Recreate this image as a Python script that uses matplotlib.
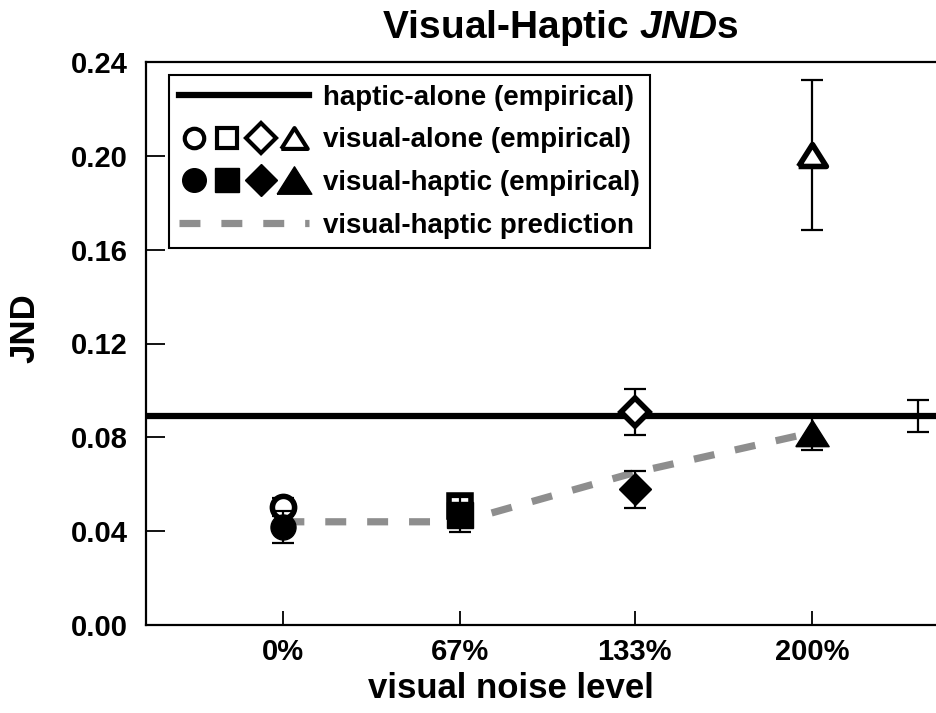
import matplotlib
matplotlib.use("Agg")
import matplotlib.pyplot as plt
from matplotlib.lines import Line2D
from matplotlib.legend_handler import HandlerTuple

plt.rcParams["font.family"] = ["Liberation Sans", "DejaVu Sans"]
plt.rcParams["font.weight"] = "bold"
plt.rcParams["mathtext.fontset"] = "custom"
plt.rcParams["mathtext.it"] = "Liberation Sans:italic:bold"
plt.rcParams["mathtext.rm"] = "Liberation Sans:bold"

# ---------------------------------------------------------------------------
# Data
# ---------------------------------------------------------------------------
noise_levels = [0, 67, 133, 200]
noise_labels = ["0%", "67%", "133%", "200%"]

visual_alone = [0.0503, 0.0507, 0.0908, 0.2005]
visual_alone_err = [0.004, 0.004, 0.0096, 0.032]

visual_haptic = [0.0418, 0.0470, 0.0578, 0.0818]
visual_haptic_err = [0.0070, 0.0074, 0.0078, 0.0072]

prediction = [0.0440, 0.0440, 0.0650, 0.0820]

haptic_alone = 0.0891
haptic_alone_err = 0.0068
haptic_err_x = 240

# wide, flat triangle marker
TRI = [(-1.0, -0.79), (1.0, -0.79), (0.0, 0.79), (-1.0, -0.79)]
markers = ["o", "s", "D", TRI]
msizes = [18, 18.5, 16, 24]
open_msizes = [16, 16.5, 14, 20]

GRAY = "#8e8e8e"

fig = plt.figure(figsize=(9.36, 7.13), dpi=100)
ax = fig.add_axes([146 / 936, 1 - 625 / 713, 1 - 146 / 936, (625 - 62) / 713])

# haptic-alone reference line and its error bar
ax.axhline(haptic_alone, color="black", lw=4.5, zorder=2)
ax.errorbar(haptic_err_x, haptic_alone, yerr=haptic_alone_err, fmt="none",
            ecolor="black", elinewidth=1.6, capsize=8, capthick=1.6, zorder=3)

# prediction
ax.plot(noise_levels, prediction, color=GRAY, lw=5.2, dashes=(2.9, 2.9),
        solid_capstyle="butt", dash_capstyle="butt", zorder=2.5)

# visual-alone (open) and visual-haptic (filled)
for i, x in enumerate(noise_levels):
    ax.errorbar(x, visual_alone[i], yerr=visual_alone_err[i], fmt="none",
                ecolor="black", elinewidth=1.6, capsize=8, capthick=1.6,
                zorder=3)
    ax.plot(x, visual_alone[i], marker=markers[i], ms=open_msizes[i],
            mfc="white", mec="black", mew=4, ls="none", zorder=4)
    ax.errorbar(x, visual_haptic[i], yerr=visual_haptic_err[i], fmt="none",
                ecolor="black", elinewidth=1.6, capsize=8, capthick=1.6,
                zorder=5)
    ax.plot(x, visual_haptic[i], marker=markers[i], ms=msizes[i],
            mfc="black", mec="black", mew=1, ls="none", zorder=6)

ax.set_xlim(-52, 247)
ax.set_ylim(0, 0.24)
ax.set_xticks(noise_levels)
ax.set_xticklabels(noise_labels)
ax.set_yticks([0.0, 0.04, 0.08, 0.12, 0.16, 0.20, 0.24])
ax.set_yticklabels([f"{v:.2f}" for v in ax.get_yticks()])
ax.tick_params(axis="y", direction="in", length=14, width=1.3, pad=13,
               labelsize=21)
ax.tick_params(axis="x", direction="in", length=10, width=1.3, pad=9,
               labelsize=21)
ax.spines["right"].set_visible(False)
for s in ("left", "top", "bottom"):
    ax.spines[s].set_linewidth(1.6)

# legend
h_haptic = Line2D([], [], color="black", lw=4.5)
h_open = tuple(Line2D([], [], marker=m, ms=s, mfc="white", mec="black",
                      mew=3, ls="none")
               for m, s in zip(markers, [14, 15, 15, 19]))
h_fill = tuple(Line2D([], [], marker=m, ms=s, mfc="black", mec="black",
                      ls="none") for m, s in zip(markers, [17, 17, 16.5, 25]))
h_pred = Line2D([], [], color=GRAY, lw=5.2, dashes=(2.9, 2.9),
                dash_capstyle="butt")
leg = ax.legend(
    [h_haptic, h_open, h_fill, h_pred],
    ["haptic-alone (empirical)", "visual-alone (empirical)",
     "visual-haptic (empirical)", "visual-haptic prediction"],
    handler_map={tuple: HandlerTuple(ndivide=None, pad=0.1)},
    loc="upper left", bbox_to_anchor=(0.029, 0.977), borderaxespad=0,
    fontsize=20, handlelength=4.7, handletextpad=0.5, labelspacing=0.6,
    borderpad=0.35, fancybox=False, framealpha=1, edgecolor="black")
leg.get_frame().set_linewidth(1.5)

fig.text(560 / 936, 1 - 28 / 713, r"Visual-Haptic $JND$s", fontsize=28,
         fontweight="bold", ha="center", va="center")
fig.text(511 / 936, 1 - 688 / 713, "visual noise level", fontsize=25,
         fontweight="bold", ha="center", va="center")
fig.text(25 / 936, 1 - 328 / 713, "JND", fontsize=25, fontweight="bold",
         rotation=90, ha="center", va="center")

fig.savefig("out.png", dpi=100)
